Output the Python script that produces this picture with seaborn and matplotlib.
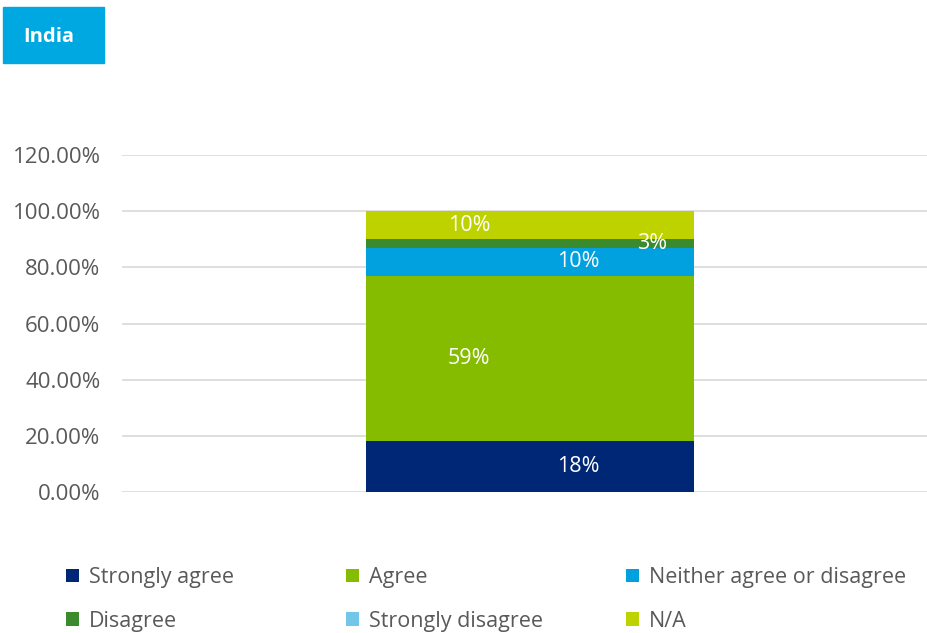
import matplotlib
matplotlib.use("Agg")
import matplotlib.pyplot as plt
import seaborn as sns
import pandas as pd
from matplotlib.patches import Rectangle

sns.set_theme(style="white")
plt.rcParams["font.family"] = ["Open Sans", "DejaVu Sans"]

# Survey response shares for India (fractions of respondents)
categories = ["Strongly agree", "Agree", "Neither agree or disagree",
              "Disagree", "Strongly disagree", "N/A"]
values = [0.18, 0.59, 0.10, 0.03, 0.00, 0.10]
colors = ["#002776", "#85BC00", "#00A1DE", "#3C8A2E", "#72C6E8", "#BED200"]
# horizontal nudge of each value label (x data units)
label_dx = [0.059, -0.075, 0.059, 0.150, 0.0, -0.075]
country = "India"
yticks = [0.0, 0.2, 0.4, 0.6, 0.8, 1.0, 1.2]

W, H = 928, 633
fig = plt.figure(figsize=(W / 100, H / 100), dpi=100)
ax = fig.add_axes([122 / W, 1 - 492 / H, 816 / W, 337 / H])

grey = "#595959"
bottom = 0.0
for cat, val, col, dx in zip(categories, values, colors, label_dx):
    df = pd.DataFrame({"country": [country], "share": [val]})
    sns.barplot(data=df, x="country", y="share", color=col, bottom=bottom,
                width=0.401, ax=ax, label=cat, saturation=1, zorder=3,
                linewidth=0, edgecolor="none")
    if val > 0:
        ax.text(dx, bottom + val / 2, f"{val*100:.0f}%",
                ha="center", va="center", color="white", fontsize=15.5, zorder=4)
    bottom += val

handles, labels = ax.get_legend_handles_labels()
if ax.get_legend() is not None:
    ax.get_legend().remove()

ax.set_xlim(-0.5, 0.5)
ax.set_ylim(0, 1.2)
ax.set_yticks(yticks)
ax.set_yticklabels([f"{t*100:.2f}%" for t in yticks], color=grey, fontsize=16)
ax.set_xticks([])
ax.set_xlabel("")
ax.set_ylabel("")
ax.grid(axis="y", color="#D9D9D9", linewidth=1.2, zorder=0)
for s in ax.spines.values():
    s.set_visible(False)
ax.tick_params(axis="y", length=0, pad=15.5)

# legend: three columns of two entries, evenly spaced
columns = [[0, 3], [1, 4], [2, 5]]
col_x = [66, 346, 626]
for idxs, x0 in zip(columns, col_x):
    leg = fig.legend([handles[i] for i in idxs], [labels[i] for i in idxs],
                     loc="upper left", bbox_to_anchor=(x0 / W, 1 - 567 / H),
                     frameon=False, fontsize=15.5, handlelength=0.6,
                     handleheight=0.6, handletextpad=0.45, labelspacing=1.05,
                     borderpad=0, borderaxespad=0)
    for t in leg.get_texts():
        t.set_color(grey)

# title box
fig.patches.append(Rectangle((3 / W, 1 - 63 / H), 101 / W, 56 / H,
                             transform=fig.transFigure, color="#00A8E1", zorder=0))
fig.text(49 / W, 1 - 37 / H, country, ha="center", va="center",
         color="white", fontsize=14.5, fontweight="bold")

fig.savefig("out.png", dpi=100)
